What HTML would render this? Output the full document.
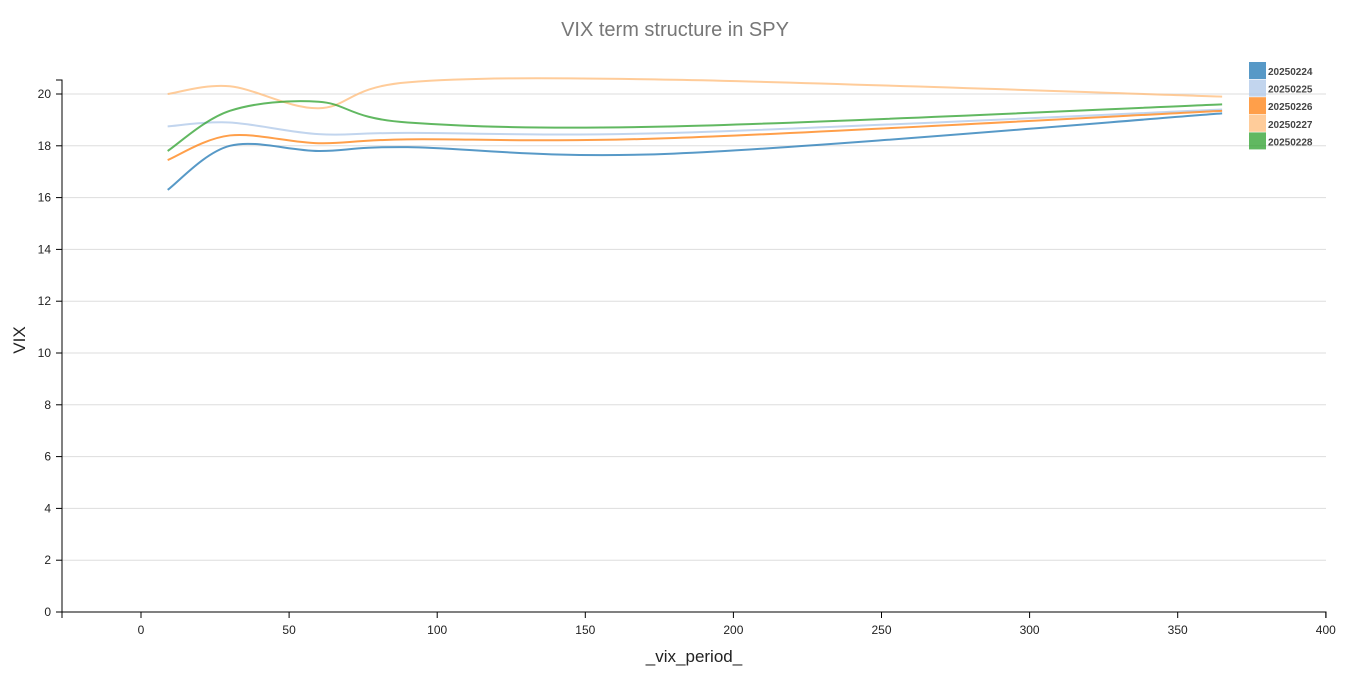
<!DOCTYPE html>
<html><head><meta charset="utf-8"><style>
body{margin:0;background:#fff;font-family:"Liberation Sans",sans-serif;}
</style></head><body>
<svg width="1351" height="681">
<text x="675" y="36" text-anchor="middle" font-size="20" fill="#777">VIX term structure in SPY</text>
<g id="grid"></g><g id="axes"></g><g id="lines"></g><g id="legend"></g>
<text x="25" y="340" transform="rotate(-90 25 340)" text-anchor="middle" font-size="17" fill="#222">VIX</text>
<text x="694" y="662" text-anchor="middle" font-size="17" fill="#222">_vix_period_</text>
</svg>
<script>
const periods=[9,30,60,90,180,365];
const dates=["20250224","20250225","20250226","20250227","20250228"];
const s20250224=[16.3,18.0,17.8,17.95,17.7,19.25];
const s20250225=[18.75,18.9,18.45,18.5,18.5,19.4];
const s20250226=[17.45,18.4,18.1,18.25,18.3,19.35];
const s20250227=[20.0,20.3,19.45,20.45,20.55,19.9];
const s20250228=[17.8,19.35,19.7,18.9,18.75,19.6];
const yTicks=[0,2,4,6,8,10,12,14,16,18,20];
const xTicks=[0,50,100,150,200,250,300,350,400];
const series=[s20250224,s20250225,s20250226,s20250227,s20250228];
const colors=["#1f77b4","#aec7e8","#ff7f0e","#ffbb78","#2ca02c"];
const NS="http://www.w3.org/2000/svg";
const X=v=>141+v*2.962, Y=v=>612-v*25.9;
function mk(t,a,p){const e=document.createElementNS(NS,t);for(const k in a)e.setAttribute(k,a[k]);p.appendChild(e);return e;}
const g=document.getElementById('grid'),ax=document.getElementById('axes'),L=document.getElementById('lines'),lg=document.getElementById('legend');
yTicks.forEach(t=>{
 if(t>0){const l=mk('line',{x1:62,x2:1326,y1:Y(t),y2:Y(t),stroke:'#ddd'},g);
 
 }
 mk('line',{x1:56,x2:62,y1:Y(t),y2:Y(t),stroke:'#000'},ax);
 const tx=mk('text',{x:51,y:Y(t)+4,'text-anchor':'end','font-size':12,fill:'#222'},ax);tx.textContent=t;
 
 
});
mk('path',{d:'M56,80H62V612H56',fill:'none',stroke:'#000'},ax);
mk('path',{d:'M62,618V612H1326V618',fill:'none',stroke:'#000'},ax);
xTicks.forEach(t=>{
 mk('line',{x1:X(t),x2:X(t),y1:612,y2:618,stroke:'#000'},ax);
 const tx=mk('text',{x:X(t),y:634,'text-anchor':'middle','font-size':12,fill:'#222'},ax);tx.textContent=t;
 
 
});
function path(vals){
 const p=periods.map((x,i)=>[X(x),Y(vals[i])]);
 let d='M'+p[0];
 for(let i=0;i<p.length-1;i++){
  const p0=p[Math.max(0,i-1)],p1=p[i],p2=p[i+1],p3=p[Math.min(p.length-1,i+2)];
  const c1=[p1[0]+(p2[0]-p0[0])/6,p1[1]+(p2[1]-p0[1])/6],c2=[p2[0]-(p3[0]-p1[0])/6,p2[1]-(p3[1]-p1[1])/6];
  d+='C'+c1+' '+c2+' '+p2;
 }
 return d;
}
series.forEach((s,i)=>{
 const pl=mk('path',{d:path(s),fill:'none',stroke:colors[i],'stroke-width':2,'stroke-opacity':0.75},L);
 
 
 const r=mk('rect',{x:1249,y:62+i*17.6,width:17,height:17,fill:colors[i],'fill-opacity':0.75},lg);
 
 
 const t=mk('text',{x:1268,y:75+i*17.6,'font-size':10,'font-weight':600,fill:'#444'},lg);t.textContent=dates[i];
 
 
});
</script>
</body></html>
